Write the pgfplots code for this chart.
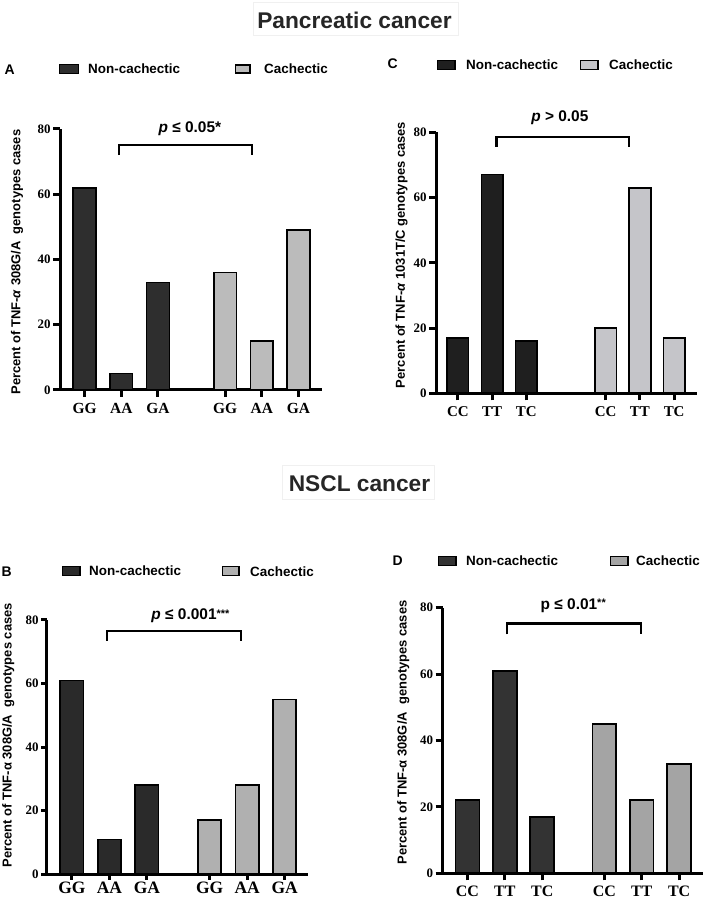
\documentclass[border=0pt]{standalone}
\usepackage{fontspec}
\setmainfont{Liberation Sans}
\newfontfamily\tnr{Liberation Serif}
\usepackage{pgfplots}
\pgfplotsset{compat=1.18}

\definecolor{darkA}{HTML}{2E2E2E}
\definecolor{lightA}{HTML}{BBBBBB}
\definecolor{darkC}{HTML}{1F1F1F}
\definecolor{lightC}{HTML}{C5C5C9}
\definecolor{darkB}{HTML}{2A2A2A}
\definecolor{lightB}{HTML}{B0B0B0}
\definecolor{darkD}{HTML}{333333}
\definecolor{lightD}{HTML}{A4A4A4}
\definecolor{titlecol}{HTML}{262626}

\pgfplotsset{
  panel/.style={
    scale only axis, anchor=south west, clip=false,
    axis x line=bottom, axis y line=left,
    x axis line style={-, line width=3bp, black},
    y axis line style={-, line width=3bp, black},
    ymin=0, ymax=80, ytick={0,20,40,60,80},
    tick align=outside, major tick length=7bp,
    xtick style={line width=3bp, black}, ytick style={line width=3bp, black},
    /pgf/number format/assume math mode=true,
    yticklabel style={font=\tnr\bfseries\fontsize{13}{13}\selectfont, xshift=1bp},
    xticklabel style={font=\tnr\bfseries\fontsize{15.5}{16}\selectfont, yshift=-3bp},
    every axis y label/.append style={font=\bfseries\fontsize{13}{15}\selectfont, anchor=center},
  },
  bars/.style={ybar, bar width=#1, bar shift=0pt, draw=black, line width=1.6bp},
  bracket/.style={black, line width=2.4bp, no markers, sharp plot, line join=miter},
}
\tikzset{ptext/.style={font=\bfseries\fontsize{15.5}{16}\selectfont, text=black}}

\newcommand{\lt}[1]{{\bfseries\fontsize{13.5}{15}\selectfont #1}}

\begin{document}
\begin{tikzpicture}[x=1bp,y=1bp]
\path[use as bounding box] (0,0) rectangle (705,900);

% titles
\node[draw=black!6, line width=0.8bp, minimum width=205bp, minimum height=33bp, inner sep=0pt] at (355.5,881.5) {};
\node[font=\bfseries\fontsize{22.8}{24}\selectfont, text=titlecol] at (354.5,880) {Pancreatic cancer};
\node[draw=black!6, line width=0.8bp, minimum width=152bp, minimum height=34bp, inner sep=0pt] at (358,418) {};
\node[font=\bfseries\fontsize{22.8}{24}\selectfont, text=titlecol] at (359.5,416.5) {NSCL cancer};

% ---------- Panel A ----------
\begin{axis}[panel, at={(60bp,510bp)}, width=262bp, height=261bp,
  xmin=-0.67, xmax=6.47,
  xtick={0,1,2,3.83,4.83,5.83}, xticklabels={GG,AA,GA,GG,AA,GA},
  ylabel={Percent of TNF-\textit{α} 308G/A\ \ genotypes cases},
  ylabel style={at={(axis description cs:-0.164,0.49)}}]
\addplot[bars=0.62, fill=darkA] coordinates {(0,62) (1,5) (2,33)};
\addplot[bars=0.62, fill=lightA] coordinates {(3.83,36) (4.83,15) (5.83,49)};
\addplot[bracket] coordinates {(0.94,72) (0.94,75) (4.56,75) (4.56,72)};
\node[ptext] at (axis cs:2.87,80.2) {\textit{p} ≤ 0.05*};
\end{axis}
\node[anchor=west, font=\bfseries\fontsize{14}{15}\selectfont] at (1,830) {A};
\draw[fill=darkA, line width=1.3bp] (59.5,826.5) rectangle (78.5,835.5);
\node[anchor=west, inner sep=0pt] at (88,831) {\lt{Non-cachectic}};
\draw[fill=lightA, line width=1.3bp] (235.5,827) rectangle (250,835);
\node[anchor=west, inner sep=0pt] at (264,831) {\lt{Cachectic}};

% ---------- Panel C ----------
\begin{axis}[panel, at={(436bp,506.7bp)}, width=260.7bp, height=261bp,
  xmin=-0.64, xmax=6.98,
  xtick={0,1,2,4.32,5.32,6.32}, xticklabels={CC,TT,TC,CC,TT,TC},
  xticklabel style={font=\tnr\bfseries\fontsize{15}{16}\selectfont},
  ylabel={Percent of TNF-\textit{α} 1031T/C genotypes cases},
  ylabel style={at={(axis description cs:-0.132,0.53)}}]
\addplot[bars=0.63, fill=darkC] coordinates {(0,17) (1,67) (2,16)};
\addplot[bars=0.63, fill=lightC] coordinates {(4.32,20) (5.32,63) (6.32,17)};
\addplot[bracket] coordinates {(1.13,75.6) (1.13,78.6) (5.0,78.6) (5.0,75.6)};
\node[ptext] at (axis cs:2.98,84.5) {\textit{p} > 0.05};
\end{axis}
\node[anchor=west, font=\bfseries\fontsize{14}{15}\selectfont] at (384,836) {C};
\draw[fill=darkC, line width=1.3bp] (437.5,830.5) rectangle (455,839.5);
\node[anchor=west, inner sep=0pt] at (466,835) {\lt{Non-cachectic}};
\draw[fill=lightC, line width=1.3bp] (580.5,830.5) rectangle (598,839.5);
\node[anchor=west, inner sep=0pt] at (609,835) {\lt{Cachectic}};

% ---------- Panel B ----------
\begin{axis}[panel, at={(46.7bp,25.7bp)}, width=261.6bp, height=254.3bp,
  xmin=-0.67, xmax=6.3, major tick length=5.5bp,
  xtick={0,1,2,3.67,4.67,5.67}, xticklabels={GG,AA,GA,GG,AA,GA},
  xticklabel style={font=\tnr\bfseries\fontsize{17.5}{18}\selectfont, yshift=4bp},
  ylabel={Percent of TNF-α 308G/A\ \ genotypes cases},
  ylabel style={at={(axis description cs:-0.147,0.547)}}]
\addplot[bars=0.62, fill=darkB] coordinates {(0,61) (1,11) (2,28)};
\addplot[bars=0.62, fill=lightB] coordinates {(3.67,17) (4.67,28) (5.67,55)};
\addplot[bracket] coordinates {(0.94,73.5) (0.94,76.6) (4.5,76.6) (4.5,73.5)};
\node[ptext] at (axis cs:3.16,81.3) {\textit{p} ≤ 0.001{\fontsize{11}{11}\selectfont\raisebox{2.5bp}{***}}};
\end{axis}
\node[anchor=west, font=\bfseries\fontsize{14}{15}\selectfont] at (-2,328) {B};
\draw[fill=darkB, line width=1.3bp] (62.5,324.5) rectangle (80,333.5);
\node[anchor=west, inner sep=0pt] at (89,329) {\lt{Non-cachectic}};
\draw[fill=lightB, line width=1.3bp] (222.5,324.5) rectangle (239,333.5);
\node[anchor=west, inner sep=0pt] at (250,328) {\lt{Cachectic}};

% ---------- Panel D ----------
\begin{axis}[panel, at={(442.7bp,26.7bp)}, width=260.3bp, height=265.6bp,
  xmin=-0.66, xmax=6.3,
  xtick={0,1,2,3.66,4.66,5.66}, xticklabels={CC,TT,TC,CC,TT,TC},
  xticklabel style={font=\tnr\bfseries\fontsize{16}{17}\selectfont, yshift=1bp},
  ylabel={Percent of TNF-α 308G/A\ \ genotypes cases},
  ylabel style={at={(axis description cs:-0.151,0.53)}}]
\addplot[bars=0.64, fill=darkD] coordinates {(0,22) (1,61) (2,17)};
\addplot[bars=0.64, fill=lightD] coordinates {(3.66,45) (4.66,22) (5.66,33)};
\addplot[bracket] coordinates {(1.06,72) (1.06,75.3) (4.64,75.3) (4.64,72)};
\node[ptext] at (axis cs:2.83,80.6) {p ≤ 0.01{\fontsize{11}{11}\selectfont\raisebox{2.5bp}{**}}};
\end{axis}
\node[anchor=west, font=\bfseries\fontsize{14}{15}\selectfont] at (389,339) {D};
\draw[fill=darkD, line width=1.3bp] (438.5,334.5) rectangle (456,343.5);
\node[anchor=west, inner sep=0pt] at (466,339) {\lt{Non-cachectic}};
\draw[fill=lightD, line width=1.3bp] (610.5,334.5) rectangle (628,343.5);
\node[anchor=west, inner sep=0pt] at (636,339) {\lt{Cachectic}};
\end{tikzpicture}
\end{document}
